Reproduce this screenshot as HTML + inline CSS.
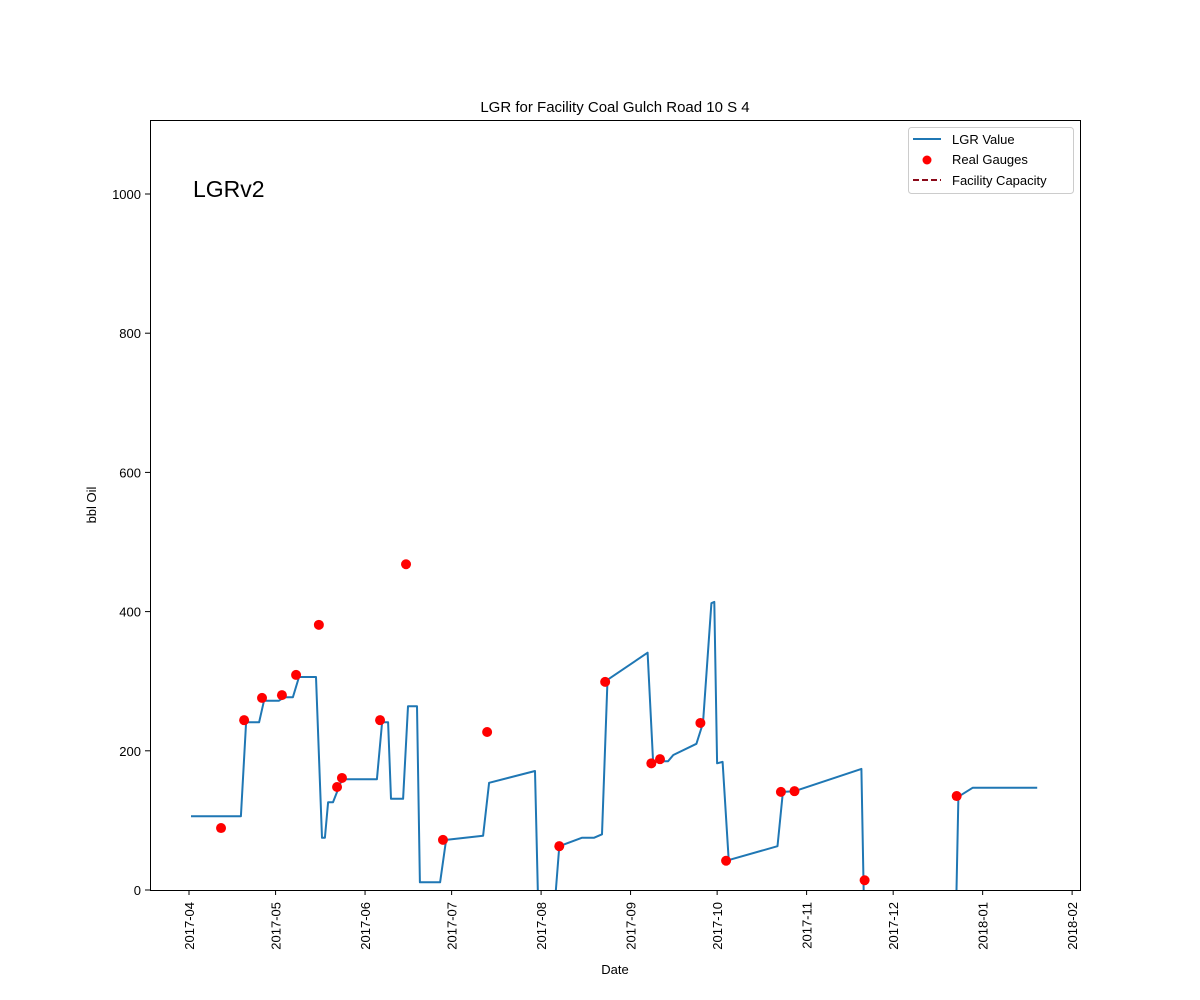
<!DOCTYPE html>
<html><head><meta charset="utf-8"><style>
body{margin:0;background:#fff;}
svg{display:block;font-family:"Liberation Sans","DejaVu Sans",sans-serif;}
</style></head><body>
<svg id="chart" width="1200" height="1000">
<rect width="1200" height="1000" fill="#fff"/>
<text x="615" y="112" text-anchor="middle" font-size="15">LGR for Facility Coal Gulch Road 10 S 4</text>
<text x="193" y="197" font-size="23">LGRv2</text>
<text x="615" y="974" text-anchor="middle" font-size="13">Date</text>
<text transform="translate(96,505) rotate(-90)" text-anchor="middle" font-size="13">bbl Oil</text>
<defs><clipPath id="pc"><rect x="150" y="120" width="930" height="770"/></clipPath></defs>
<g id="grid"></g>
<g id="plot" clip-path="url(#pc)"></g>
<rect x="150.5" y="120.5" width="930" height="770" fill="none" stroke="#000" stroke-width="1"/>
<g>
<rect x="908.5" y="127.5" width="165" height="66" rx="3" fill="#fff" stroke="#ccc"/>
<line x1="913" y1="139" x2="941" y2="139" stroke="#1f77b4" stroke-width="2"/>
<text x="952" y="144" font-size="13">LGR Value</text>
<circle cx="927" cy="160" r="4.5" fill="#ff0000"/>
<text x="952" y="164" font-size="13">Real Gauges</text>
<line x1="913" y1="180" x2="941" y2="180" stroke="#8b0a1a" stroke-width="2" stroke-dasharray="6,3"/>
<text x="952" y="185" font-size="13">Facility Capacity</text>
</g>
</svg>
<script>
// days since 2017-04-01
const lineDays=[0.7,18.0,19.8,24.3,26.0,31.2,32.9,36.0,38.1,44.0,46.1,47.1,48.2,49.9,53.0,65.1,66.9,69.0,70.0,74.2,75.9,79.0,80.0,87.0,89.1,101.9,104.0,119.9,121.2,126.0,128.3,136.1,140.3,143.1,145.0,158.9,160.8,163.2,166.0,167.8,175.8,178.1,181.0,182.0,183.0,184.9,187.0,203.9,205.8,209.8,233.0,234.0,265.7,266.6,271.6,293.9];
const lineValues=[106,106,241,241,272,272,277,277,306,306,75,75,126,126,159,159,241,241,131,131,264,264,11,11,72,78,154,171,-60,-60,63,75,75,80,302,341,184,185,185,194,210,240,412,414,182,184,43,63,141,142,174,-50,-50,134,147,147];
const gaugeDays=[11.1,19.1,25.3,32.2,37.1,45.0,51.3,53.0,66.2,75.2,88.0,103.3,128.3,144.2,160.2,163.2,177.2,186.1,205.1,209.8,234.1,266.0];
const gaugeValues=[89,244,276,280,309,381,148,161,244,468,72,227,63,299,182,188,240,42,141,142,14,135];
const xTickDays=[0,30,61,91,122,153,183,214,244,275,306];
const xTickLabels=["2017-04","2017-05","2017-06","2017-07","2017-08","2017-09","2017-10","2017-11","2017-12","2018-01","2018-02"];
const yTicks=[0,200,400,600,800,1000];

const NS="http://www.w3.org/2000/svg";
const X=d=>189+d*2.886;
const Y=v=>890-v*0.696;
const plot=document.getElementById('plot'), grid=document.getElementById('grid');
function mk(t,a,p){const e=document.createElementNS(NS,t);for(const k in a)e.setAttribute(k,a[k]);p.appendChild(e);return e;}
xTickDays.forEach((d,i)=>{
  const l=mk('line',{x1:X(d),x2:X(d),y1:890,y2:895,stroke:'#000'},grid);
  
  
  const t=mk('text',{transform:`translate(${X(d)+5},902) rotate(-90)`,'text-anchor':'end','font-size':13},grid);
  t.textContent=xTickLabels[i];
  
  
});
yTicks.forEach(v=>{
  const l=mk('line',{x1:145,x2:150,y1:Y(v),y2:Y(v),stroke:'#000'},grid);
  
  
  const t=mk('text',{x:141,y:Y(v)+5,'text-anchor':'end','font-size':13},grid);
  t.textContent=v;
  
  
});
const pts=lineDays.map((d,i)=>X(d).toFixed(1)+','+Y(lineValues[i]).toFixed(1)).join(' ');
const pl=mk('polyline',{points:pts,fill:'none',stroke:'#1f77b4','stroke-width':2,'stroke-linejoin':'round'},plot);


gaugeDays.forEach((d,i)=>{
  const c=mk('circle',{cx:X(d),cy:Y(gaugeValues[i]),r:5,fill:'#ff0000'},plot);
  
  
});
</script>
</body></html>
